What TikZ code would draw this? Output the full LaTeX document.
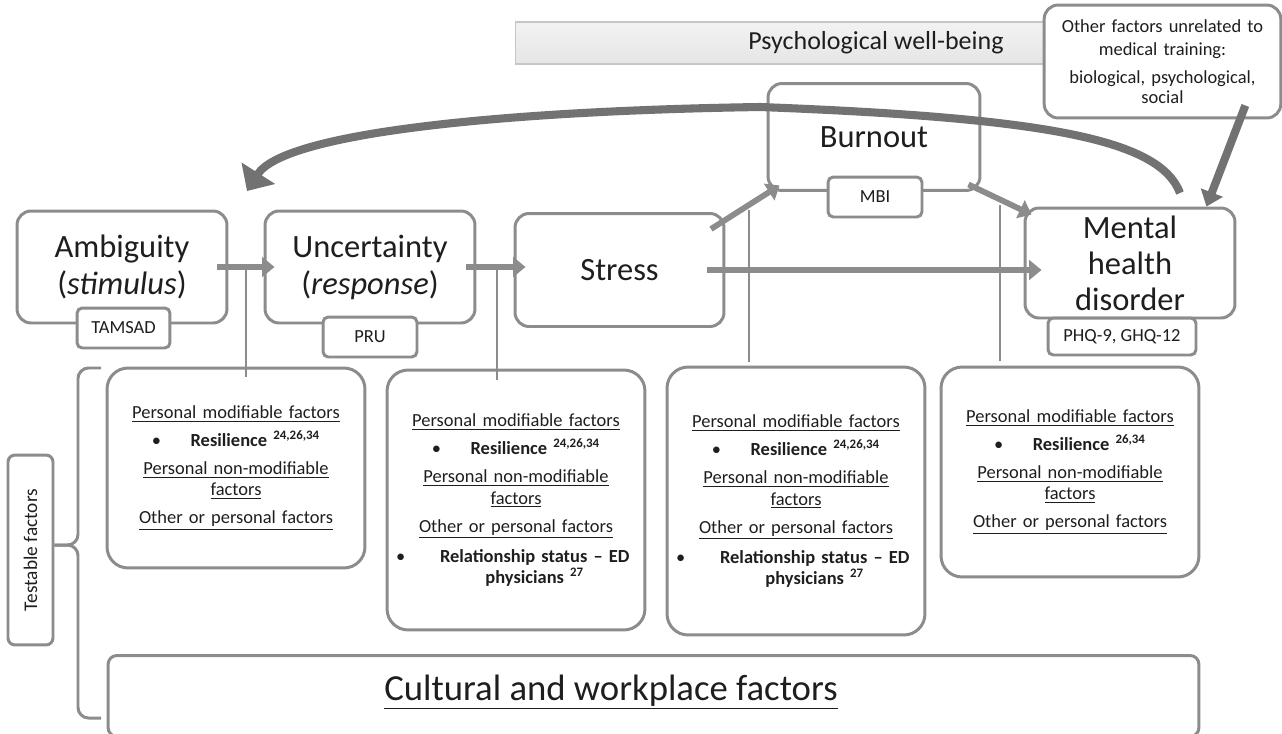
\documentclass[tikz,border=0pt]{standalone}
\usepackage{fontspec}
\setmainfont{Carlito}
\usetikzlibrary{arrows.meta,calc}
\definecolor{boxgray}{HTML}{8C8C8C}
\definecolor{loopgray}{HTML}{727272}
\definecolor{txt}{HTML}{1E1E1E}

\tikzset{
  stage/.style={draw=boxgray, line width=1.7pt, rounded corners=8pt, fill=white, minimum width=4.2cm, minimum height=2.24cm, align=center, font=\fontsize{18.5}{21}\selectfont, text=txt},
  measure/.style={draw=boxgray, line width=1.7pt, rounded corners=3pt, fill=white, minimum height=0.8cm, font=\fontsize{10.5}{12}\selectfont, text=txt},
  factorbox/.style={draw=boxgray, line width=1.7pt, rounded corners=12pt, minimum width=5.16cm, text width=4.8cm, align=center, font=\fontsize{10.5}{12}\selectfont, text=txt},
  flow/.style={draw=boxgray, line width=3.3pt, -{Triangle[length=7pt,width=11pt]}},
  link/.style={draw=boxgray, line width=0.6pt},
}
\newcommand{\resil}[1]{\textbullet\hspace{1.6em}\textbf{Resilience \textsuperscript{#1}}}
\newcommand{\relstat}{\parbox[t]{0.75cm}{\textbullet}\parbox[t]{4.05cm}{\centering\bfseries Relationship status -- ED\\ physicians \textsuperscript{27}}}

\begin{document}
\begin{tikzpicture}[x=0.02cm, y=-0.02cm]
  \useasboundingbox (0,0) rectangle (1282,734);

  % well-being banner and outside factors
  \node[draw=gray!45, line width=0.6pt, top color=gray!10, bottom color=gray!20, minimum width=14.44cm, minimum height=0.84cm, font=\fontsize{14.8}{17}\selectfont, text=txt] (pwb) at (876,43) {Psychological well-being};
  \node[draw=boxgray, line width=1.7pt, rounded corners=8pt, fill=white, minimum width=4.7cm, minimum height=2.26cm, text width=4.5cm, align=center, font=\fontsize{10.5}{13.5}\selectfont, text=txt] (ofac) at (1162.5,61.5)
    {Other factors unrelated to\\ medical training:\\[2pt] biological, psychological,\\[-2pt] social};

  % main chain
  \node[stage] (amb) at (122,267) {Ambiguity\\(\textit{stimulus})};
  \node[stage] (unc) at (370,267) {Uncertainty\\(\textit{response})};
  \node[stage, minimum width=4.18cm, minimum height=2.26cm] (str) at (619.5,270) {Stress};
  \node[stage, minimum width=4.24cm, minimum height=2.14cm] (bo) at (874,137) {Burnout};
  \node[stage, minimum height=2.2cm, inner sep=0pt, font=\fontsize{18.5}{20.4}\selectfont] (mhd) at (1130,263) {Mental\\health\\disorder};

  \node[measure, minimum width=1.86cm] (tamsad) at (123.5,328) {TAMSAD};
  \node[measure, minimum width=1.88cm] (pru) at (370,337) {PRU};
  \node[measure, minimum width=1.88cm] (mbi) at (875,197) {MBI};
  \node[measure, minimum width=2.96cm, minimum height=0.74cm] (phq) at (1122,336.5) {PHQ-9, GHQ-12};

  \draw[flow] ([xshift=-0.22cm]amb.east) -- ([xshift=0.22cm]unc.west);
  \draw[flow] ([xshift=-0.2cm]unc.east) -- ([xshift=0.24cm]unc.east -| str.west);
  \draw[flow] ([xshift=-0.36cm]str.east) -- ([xshift=0.36cm]str.east -| mhd.west);
  \draw[flow] ([xshift=-0.29cm,yshift=-0.34cm]str.north east) -- ([xshift=0.26cm,yshift=0.13cm]bo.south west);
  \draw[flow] ([xshift=-0.26cm,yshift=0.15cm]bo.south east) -- ([xshift=0.16cm,yshift=-0.16cm]mhd.north west);
  \draw[draw=loopgray, line width=4.6pt, -{Triangle[length=8.5pt,width=13pt]}] ([xshift=-0.74cm,yshift=0.28cm]ofac.south east) -- ([xshift=-0.6cm]mhd.north east);

  % feedback loop
  \coordinate (lpA) at (1180,193);
  \coordinate (lpM) at (760,107);
  \coordinate (lpB) at (247,191);
  \draw[draw=loopgray, line width=4.6pt, -{Triangle[length=12pt,width=22pt]}] (lpA) .. controls (1160,140) and (1050,118) .. (lpM) .. controls (500,111) and (284,133) .. (lpB);

  % moderating factors
  \node[factorbox, minimum height=4cm] (f1) at (236,468)
    {\underline{Personal modifiable factors}\\[4pt]
     \resil{24,26,34}\\[4pt]
     \underline{Personal non-modifiable}\\ \underline{factors}\\[4pt]
     \underline{Other or personal factors}};
  \node[factorbox, minimum height=5.2cm] (f2) at (516,500)
    {\underline{Personal modifiable factors}\\[4pt]
     \resil{24,26,34}\\[4pt]
     \underline{Personal non-modifiable}\\ \underline{factors}\\[4pt]
     \underline{Other or personal factors}\\[5pt]
     \relstat};
  \node[factorbox, minimum height=5.36cm] (f3) at (796,501)
    {\underline{Personal modifiable factors}\\[4pt]
     \resil{24,26,34}\\[4pt]
     \underline{Personal non-modifiable}\\ \underline{factors}\\[4pt]
     \underline{Other or personal factors}\\[5pt]
     \relstat};
  \node[factorbox, minimum height=4.2cm] (f4) at (1070,472)
    {\underline{Personal modifiable factors}\\[4pt]
     \resil{26,34}\\[4pt]
     \underline{Personal non-modifiable}\\ \underline{factors}\\[4pt]
     \underline{Other or personal factors}};

  \coordinate (j1) at (246,267);
  \coordinate (j2) at (497,268);
  \coordinate (j3) at (749,210);
  \coordinate (j4) at (1000,205);
  \draw[link] (j1) -- ([yshift=-0.2cm]j1 |- f1.north);
  \draw[link] (j2) -- ([yshift=-0.22cm]j2 |- f2.north);
  \draw[link] (j3) -- ([yshift=0.08cm]j3 |- f3.north);
  \draw[link] (j4) -- ([yshift=0.1cm]j4 |- f4.north);

  % workplace and testable factors
  \node[draw=boxgray, line width=1.7pt, rounded corners=5pt, minimum width=21.82cm, minimum height=1.62cm] (cw) at (653.5,696) {};
  \node[font=\fontsize{20.9}{24}\selectfont, text=txt] (cwl) at (611,692) {\underline{Cultural and workplace factors}};
  \node[draw=boxgray, line width=1.7pt, rounded corners=4pt, rotate=90, minimum width=3.8cm, minimum height=0.9cm, font=\fontsize{11}{13}\selectfont, text=txt] (tf) at (30.5,550) {Testable factors};
  \draw[boxgray, line width=1.7pt, rounded corners=6pt] ([yshift=0.1cm]tf.south) -- (78,545) -- (78,368) -- (101,368);
  \draw[boxgray, line width=1.7pt, rounded corners=6pt] ([yshift=0.1cm]tf.south) -- (78,545) -- (78,718) -- (101,718);
\end{tikzpicture}
\end{document}
